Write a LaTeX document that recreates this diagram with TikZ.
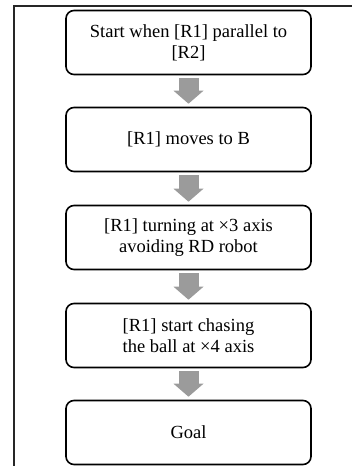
\documentclass[tikz,border=0pt]{standalone}
\usepackage{fontspec}
\setmainfont{Liberation Serif}
\usetikzlibrary{arrows.meta}

\definecolor{arrowgray}{RGB}{155,155,155}

\begin{document}
\begin{tikzpicture}[x=1pt,y=-1pt,
		stepbox/.style={shape=rectangle,draw=black,line width=1.6pt,rounded corners=8pt,
			minimum width=245pt,minimum height=64pt,align=center,inner sep=2pt,
			font=\fontsize{18.5}{21}\selectfont},
		blockarrow/.style={draw=arrowgray,line width=20pt,
			-{Triangle[width=30pt,length=13pt,line width=0pt,fill=arrowgray]},
			shorten <=3pt,shorten >=3pt}]
	\useasboundingbox (0,0) rectangle (352,466);
	% frame
	\draw[line width=1.4pt,black!85] (352,6) -- (14,6) -- (14,466);
	
	\node[stepbox] (S) at (188.5,42.5) {Start when [R1] parallel to\\{}[R2]};
	\node[stepbox] (M) at (188.5,139.5) {[R1] moves to B};
	\node[stepbox] (T) at (188.5,237.5) {[R1] turning at ×3 axis\\ avoiding RD robot};
	\node[stepbox] (C) at (188.5,335.5) {[R1] start chasing\\ the ball at ×4 axis};
	\node[stepbox] (G) at (188.5,432.5) {Goal};
	
	\path [blockarrow] (S) edge (M);
	\path [blockarrow] (M) edge (T);
	\path [blockarrow] (T) edge (C);
	\path [blockarrow] (C) edge (G);
\end{tikzpicture}
\end{document}
